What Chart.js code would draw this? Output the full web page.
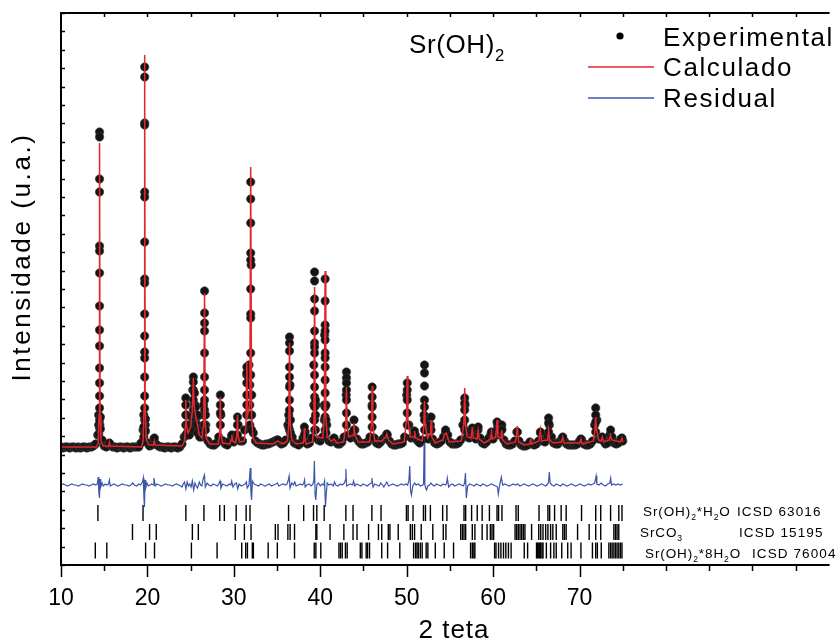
<!DOCTYPE html>
<html>
<head>
<meta charset="utf-8">
<script src="https://cdn.jsdelivr.net/npm/chart.js@4.4.1/dist/chart.umd.min.js"></script>
<style>
  html, body { margin: 0; padding: 0; background: #ffffff; }
  canvas { display: block; }
</style>
</head>
<body>
<canvas id="xrd" width="837" height="642"></canvas>
<script>
// ---- Scan: 2θ band of the measured pattern, 10°–75° every 0.25° ----
const scanStart = 10;
const scanStep = 0.25;
const backgroundCounts = [
  118, 117, 118, 118,   117, 118, 118, 117,   118, 117, 118, 118,   117, 118, 118, 119,   // 10–13
  121, 130, 140, 125,   119, 118, 121, 120,   118, 118, 117, 118,   118, 117, 118, 118,   // 14–17
  117, 118, 118, 118,   118, 122, 135, 140,   122, 119, 120, 126,   121, 119, 118, 118,   // 18–21
  117, 118, 118, 117,   118, 118, 117, 118,   121, 128, 150, 135,   140, 175, 160, 148,   // 22–25
  133, 128, 150, 140,   124, 121, 120, 120,   122, 128, 150, 124,   121, 120, 124, 129,   // 26–29
  123, 130, 140, 124,   124, 135, 190, 200,   300, 132, 124, 122,   121, 120, 120, 121,   // 30–33
  121, 122, 123, 124,   125, 123, 121, 122,   125, 140, 180, 128,   122, 121, 120, 122,   // 34–37
  127, 133, 121, 122,   127, 200, 160, 125,   124, 128, 230, 140,   124, 123, 125, 124,   // 38–41
  121, 121, 123, 128,   170, 130, 127, 132,   135, 126, 123, 121,   121, 122, 123, 128,   // 42–45
  160, 127, 122, 121,   123, 126, 128, 130,   124, 121, 120, 120,   121, 121, 122, 128,   // 46–49
  170, 140, 127, 128,   130, 124, 122, 125,   150, 135, 126, 140,   126, 122, 121, 122,   // 50–53
  124, 128, 133, 130,   123, 121, 121, 121,   122, 125, 140, 160,   128, 127, 134, 128,   // 54–57
  126, 135, 127, 122,   121, 123, 127, 131,   126, 130, 140, 130,   136, 125, 121, 120,   // 58–61
  120, 121, 124, 133,   124, 120, 119, 119,   120, 123, 121, 120,   121, 124, 132, 124,   // 62–65
  123, 130, 140, 128,   122, 121, 121, 124,   127, 124, 121, 120,   120, 120, 120, 121,   // 66–69
  124, 125, 121, 120,   120, 121, 124, 140,   145, 126, 127, 124,   121, 122, 130, 128,   // 70–73
  122, 121, 122, 126,   124                                                               // 74–75
];

// ---- Measured points on the flanks of each reflection: [2θ, counts…] ----
const peakColumns = [
  [14.36, [150, 140, 131]],
  [14.46, [433, 428, 386, 373, 319, 314, 292, 259, 235, 219, 197, 182, 169, 157, 145, 137]],
  [14.56, [148, 136]],
  [15.6,  [122]],
  [19.58, [150, 138, 128]],
  [19.68, [498, 488, 442, 440, 373, 368, 323, 286, 282, 251, 229, 213, 207, 188, 169, 157, 145, 133]],
  [19.78, [146, 134]],
  [20.8,  [127]],
  [24.44, [167, 160, 150, 140, 130]],
  [24.6,  [140, 132]],
  [24.85, [136, 130]],
  [25.1,  [148, 138]],
  [25.31, [188, 183, 175, 165, 155, 145, 135]],
  [25.45, [172, 160, 148]],
  [25.6,  [158, 150, 140]],
  [25.8,  [150, 140, 132]],
  [26.05, [136, 128]],
  [26.5,  [160, 140]],
  [26.61, [274, 252, 242, 234, 212, 188, 175, 165, 155, 140]],
  [26.72, [150, 135]],
  [28.44, [170, 160, 152, 140]],
  [29.77, [130]],
  [30.42, [148, 140, 130]],
  [31.5,  [198, 192, 182, 170, 160, 150]],
  [31.85, [180, 160, 140]],
  [31.95, [383, 366, 342, 312, 305, 276, 251, 247, 212, 190, 170, 150]],
  [32.06, [170, 150, 135]],
  [35.1,  [125]],
  [36.35, [150, 138]],
  [36.44, [228, 222, 214, 198, 188, 178, 165, 155, 145, 135]],
  [36.55, [145, 132]],
  [38.16, [138, 130]],
  [39.25, [160, 145]],
  [39.34, [293, 284, 266, 254, 234, 222, 218, 212, 190, 178, 168, 158, 145, 135]],
  [39.44, [165, 150, 135]],
  [40.47, [160, 145]],
  [40.56, [286, 264, 240, 234, 225, 212, 207, 198, 185, 172, 158, 148, 135]],
  [40.66, [160, 145, 132]],
  [41.6,  [127]],
  [43.03, [193, 187, 182, 175, 165, 152, 140]],
  [43.9,  [145, 135]],
  [46.0,  [178, 168, 158, 148, 138]],
  [47.7,  [131]],
  [50.06, [182, 175, 165, 152, 140]],
  [50.9,  [134]],
  [52.06, [200, 192, 179, 165, 158, 145, 135]],
  [52.82, [148, 135]],
  [54.5,  [135]],
  [56.71, [167, 162, 155, 145, 135]],
  [57.59, [137]],
  [58.27, [138]],
  [59.8,  [133]],
  [60.45, [143, 135]],
  [61.0,  [140, 135]],
  [62.8,  [133]],
  [65.47, [133]],
  [66.42, [147, 142, 133]],
  [68.06, [128]],
  [70.16, [126]],
  [71.87, [157, 150, 143, 133]],
  [72.63, [128]],
  [73.59, [135]],
  [74.9,  [127]]
];

// ---- Calculated (Rietveld) profile: [2θ, counts] ----
const calculated = [
  [10, 118], [14.1, 118], [14.3, 122], [14.4, 150], [14.46, 422], [14.52, 150], [14.62, 124], [14.9, 119],
  [15.5, 119], [15.6, 123], [15.7, 119], [19.3, 118], [19.5, 124], [19.62, 160], [19.68, 510], [19.74, 160],
  [19.85, 126], [20.2, 120], [20.7, 120], [20.8, 124], [20.9, 120], [24.0, 119], [24.3, 124], [24.4, 140],
  [24.44, 165], [24.5, 140], [24.7, 132], [25.0, 138], [25.2, 155], [25.31, 187], [25.4, 160], [25.6, 148],
  [25.8, 140], [26.0, 130], [26.3, 127], [26.5, 140], [26.61, 272], [26.7, 140], [26.85, 126], [27.2, 121],
  [28.2, 121], [28.35, 130], [28.44, 168], [28.52, 130], [28.7, 122], [29.5, 121], [29.7, 125], [29.77, 130],
  [29.85, 124], [30.2, 122], [30.35, 130], [30.42, 150], [30.5, 128], [30.7, 123], [31.2, 124], [31.4, 140],
  [31.5, 203], [31.6, 150], [31.85, 160], [31.95, 398], [32.05, 150], [32.2, 127], [32.6, 122], [34.5, 121],
  [35.1, 124], [35.6, 121], [36.2, 124], [36.35, 140], [36.44, 222], [36.53, 140], [36.7, 125], [37.2, 121],
  [38.0, 122], [38.1, 125], [38.16, 137], [38.22, 125], [38.4, 121], [39.1, 123], [39.25, 140], [39.34, 278],
  [39.42, 140], [39.6, 128], [40.3, 127], [40.47, 150], [40.56, 294], [40.64, 150], [40.8, 128], [41.3, 124],
  [41.6, 126], [41.9, 122], [42.7, 123], [42.95, 140], [43.03, 178], [43.1, 140], [43.3, 128], [43.8, 130],
  [43.9, 142], [44.0, 130], [44.4, 123], [45.7, 123], [45.92, 140], [46.0, 179], [46.08, 140], [46.3, 124],
  [47.2, 124], [47.3, 126], [47.6, 128], [47.7, 131], [47.9, 125], [48.4, 121], [49.7, 123], [49.98, 145],
  [50.06, 189], [50.14, 145], [50.4, 128], [50.85, 128], [50.92, 134], [51.0, 127], [51.8, 124], [51.98, 140],
  [52.06, 164], [52.14, 140], [52.4, 127], [52.75, 132], [52.82, 145], [52.9, 128], [53.3, 122], [54.2, 125],
  [54.35, 130], [54.55, 132], [54.7, 129], [54.9, 123], [56.3, 124], [56.6, 140], [56.71, 177], [56.8, 140],
  [57.0, 128], [57.45, 127], [57.59, 138], [57.7, 127], [58.15, 126], [58.27, 135], [58.4, 126], [59.0, 122],
  [59.7, 126], [59.8, 133], [59.9, 126], [60.3, 128], [60.45, 145], [60.55, 128], [60.9, 127], [61.0, 135],
  [61.1, 125], [61.6, 121], [62.6, 123], [62.8, 139], [62.95, 123], [63.6, 120], [64.25, 121], [64.35, 125],
  [64.45, 121], [65.3, 124], [65.47, 135], [65.6, 124], [66.3, 125], [66.42, 135], [66.55, 125], [67.0, 122],
  [67.9, 123], [68.06, 128], [68.2, 122], [70.0, 122], [70.16, 126], [70.3, 121], [71.6, 124], [71.78, 135],
  [71.87, 148], [71.96, 135], [72.2, 125], [72.5, 124], [72.63, 128], [72.8, 123], [73.45, 125], [73.59, 130],
  [73.72, 125], [74.7, 123], [74.9, 127], [75.0, 123]
];

// ---- Difference curve (observed − calculated, offset): [2θ, counts] ----
const residual = [
  [10.0, 80], [10.25, 81], [10.5, 80], [10.75, 79], [11.0, 80], [11.25, 81], [11.5, 80], [11.75, 80], [12.0, 79],
  [12.25, 80], [12.5, 81], [12.75, 80], [13.0, 80], [13.25, 79], [13.5, 80], [13.75, 81], [14.0, 80], [14.2, 81],
  [14.3, 88], [14.38, 73], [14.45, 67], [14.52, 86], [14.6, 78], [14.75, 82], [14.9, 79], [15.1, 81], [15.3, 80],
  [15.5, 81], [15.6, 85], [15.7, 79], [15.9, 80], [16.1, 81], [16.35, 80], [16.6, 79], [16.85, 80], [17.1, 81],
  [17.35, 80], [17.6, 80], [17.85, 79], [18.1, 80], [18.3, 82], [18.5, 80], [18.75, 79], [19.0, 81], [19.2, 80],
  [19.35, 82], [19.45, 84], [19.52, 87], [19.6, 66], [19.66, 58], [19.72, 85], [19.8, 77], [19.95, 82], [20.1, 79],
  [20.3, 80], [20.5, 81], [20.65, 80], [20.75, 87], [20.9, 79], [21.1, 81], [21.35, 80], [21.6, 79], [21.85, 80],
  [22.1, 81], [22.35, 80], [22.6, 80], [22.85, 79], [23.1, 80], [23.35, 81], [23.6, 80], [23.85, 79], [24.0, 78],
  [24.15, 81], [24.3, 83], [24.45, 76], [24.6, 83], [24.75, 79], [24.9, 81], [25.05, 78], [25.2, 84], [25.35, 75],
  [25.5, 82], [25.65, 79], [25.8, 77], [26.0, 83], [26.15, 80], [26.3, 79], [26.45, 86], [26.6, 90], [26.7, 78],
  [26.9, 82], [27.1, 80], [27.35, 79], [27.6, 81], [27.85, 80], [28.1, 79], [28.3, 82], [28.4, 84], [28.5, 77],
  [28.7, 81], [28.95, 80], [29.2, 79], [29.45, 81], [29.65, 80], [29.75, 84], [29.9, 78], [30.1, 81], [30.3, 82],
  [30.45, 76], [30.6, 81], [30.85, 79], [31.1, 80], [31.3, 81], [31.45, 83], [31.55, 77], [31.75, 80], [31.9, 97],
  [31.98, 72], [32.05, 65], [32.15, 84], [32.35, 81], [32.6, 80], [32.85, 79], [33.1, 81], [33.35, 80], [33.6, 79],
  [33.85, 80], [34.1, 81], [34.35, 79], [34.6, 80], [34.85, 81], [35.05, 82], [35.2, 79], [35.45, 80], [35.7, 81],
  [35.95, 80], [36.15, 81], [36.3, 85], [36.4, 89], [36.5, 77], [36.7, 82], [36.9, 80], [37.05, 83], [37.2, 79],
  [37.45, 80], [37.7, 81], [37.95, 80], [38.1, 82], [38.18, 85], [38.25, 78], [38.45, 80], [38.7, 81], [38.95, 79],
  [39.15, 81], [39.25, 84], [39.32, 104], [39.4, 70], [39.48, 65], [39.6, 80], [39.8, 82], [40.0, 79], [40.2, 81],
  [40.4, 80], [40.5, 84], [40.6, 58], [40.68, 70], [40.8, 82], [41.0, 80], [41.25, 81], [41.5, 79], [41.65, 83],
  [41.8, 80], [42.05, 79], [42.3, 81], [42.55, 80], [42.8, 82], [42.9, 85], [42.96, 96], [43.05, 79], [43.25, 80],
  [43.5, 81], [43.75, 80], [43.85, 84], [44.0, 79], [44.2, 81], [44.45, 80], [44.7, 79], [44.95, 81], [45.2, 80],
  [45.45, 79], [45.7, 81], [45.9, 82], [45.98, 87], [46.1, 78], [46.3, 81], [46.55, 80], [46.8, 79], [47.0, 82],
  [47.2, 80], [47.35, 78], [47.55, 81], [47.7, 83], [47.9, 79], [48.15, 80], [48.4, 81], [48.65, 80], [48.9, 79],
  [49.15, 80], [49.4, 81], [49.65, 80], [49.9, 81], [50.1, 80], [50.25, 84], [50.35, 99], [50.45, 74], [50.55, 70],
  [50.7, 79], [50.9, 82], [51.1, 80], [51.35, 81], [51.6, 79], [51.85, 80], [51.95, 81], [52.02, 128], [52.1, 80],
  [52.2, 77], [52.3, 75], [52.45, 79], [52.65, 80], [52.8, 82], [53.0, 80], [53.2, 79], [53.45, 81], [53.7, 80],
  [53.95, 79], [54.2, 81], [54.45, 80], [54.6, 81], [54.7, 87], [54.85, 78], [55.05, 80], [55.3, 81], [55.55, 79],
  [55.8, 80], [56.05, 81], [56.3, 80], [56.55, 79], [56.7, 82], [56.8, 92], [56.9, 67], [57.05, 79], [57.3, 81],
  [57.55, 80], [57.8, 79], [58.05, 81], [58.3, 80], [58.55, 79], [58.8, 81], [59.05, 80], [59.3, 79], [59.55, 80],
  [59.8, 81], [60.05, 80], [60.3, 79], [60.5, 78], [60.6, 71], [60.75, 80], [60.95, 88], [61.1, 80], [61.35, 81],
  [61.6, 80], [61.85, 79], [62.1, 80], [62.35, 81], [62.6, 80], [62.85, 81], [63.1, 79], [63.35, 80], [63.6, 81],
  [63.85, 80], [64.1, 79], [64.35, 80], [64.6, 81], [64.85, 80], [65.1, 79], [65.35, 80], [65.6, 81], [65.85, 80],
  [66.1, 79], [66.3, 81], [66.4, 82], [66.5, 93], [66.6, 82], [66.8, 80], [67.05, 79], [67.3, 81], [67.55, 80],
  [67.8, 79], [68.05, 81], [68.3, 80], [68.55, 79], [68.8, 80], [69.05, 81], [69.3, 80], [69.55, 79], [69.8, 80],
  [70.05, 81], [70.3, 80], [70.55, 79], [70.8, 80], [71.05, 81], [71.3, 80], [71.55, 81], [71.75, 82], [71.85, 86],
  [71.92, 89], [72.0, 81], [72.25, 80], [72.5, 82], [72.75, 80], [73.0, 79], [73.25, 81], [73.5, 82], [73.6, 87],
  [73.7, 80], [73.95, 81], [74.2, 80], [74.45, 81], [74.7, 80], [75.0, 81]
];

// ---- Bragg reflection positions (2θ) of each phase ----
const reflMonohydrate = [
  14.27, 19.49, 24.45, 26.54, 28.37, 28.9, 30.27, 31.42, 31.87, 36.33, 38.08, 39.22, 39.6, 40.45, 42.96,
  43.79, 45.97, 47.03, 49.97, 50.16, 50.73, 51.94, 52.17, 52.74, 54.16, 54.65, 56.63, 56.82, 57.51, 58.16,
  58.73, 59.57, 60.45, 60.63, 61.02, 62.65, 62.91, 65.31, 66.34, 66.54, 67.11, 67.87, 68.45, 70.23, 71.87,
  72.45, 73.59, 74.54, 74.91
];
const reflCarbonate = [
  18.27, 20.25, 21.02, 25.2, 25.89, 30.16, 31.22, 31.99, 34.8, 35.11, 36.25, 36.51, 37.02, 39.49, 39.6,
  41.13, 42.73, 43.79, 44.25, 45.59, 46.73, 47.11, 47.87, 48.06, 49.02, 50.42, 50.65, 50.91, 51.68, 53.02,
  54.23, 54.54, 56.25, 56.45, 56.63, 56.82, 57.59, 57.89, 58.73, 59.3, 59.68, 59.87, 60.06, 62.54, 62.73,
  62.91, 63.11, 63.3, 63.49, 63.68, 64.45, 65.28, 65.51, 65.77, 66.08, 66.34, 66.65, 66.91, 67.3, 68.06,
  68.25, 68.45, 69.77, 71.11, 71.87, 72.45, 73.97, 74.16, 74.34, 74.54
];
const reflOctahydrate = [
  13.97, 15.3, 19.79, 20.82, 25.09, 28.06, 30.91, 31.37, 31.57, 32.14, 32.26, 33.97, 35.03, 37.02, 39.3,
  39.49, 40.06, 42.16, 42.34, 42.54, 42.91, 43.11, 44.63, 44.82, 45.31, 45.47, 45.7, 47.11, 47.79, 49.2,
  50.8, 51.03, 51.19, 51.34, 51.57, 51.79, 52.25, 52.45, 53.31, 54.34, 55.42, 57.39, 57.59, 57.77, 57.89,
  60.17, 60.33, 60.63, 60.9, 61.2, 61.47, 61.77, 62.08, 63.6, 63.99, 65.02, 65.13, 65.28, 65.39, 65.51,
  65.66, 65.77, 66.16, 66.65, 67.03, 67.3, 67.94, 68.63, 69.02, 70.16, 71.49, 71.87, 72.06, 72.51, 73.39,
  73.59, 73.77, 73.97, 74.16, 74.34, 74.54, 74.73, 74.91
];

const xTickLabels = [10, 20, 30, 40, 50, 60, 70];
const legendLabels = ['Experimental', 'Calculado', 'Residual'];
const phaseNames = [
  { parts: [['Sr(OH)'], ['2', 1], ['*H'], ['2', 1], ['O']], code: 'ICSD 63016' },
  { parts: [['SrCO'], ['3', 1]], code: 'ICSD 15195' },
  { parts: [['Sr(OH)'], ['2', 1], ['*8H'], ['2', 1], ['O']], code: 'ICSD 76004' }
];

// ---- build Chart.js point lists ----
const experimentalPoints = backgroundCounts.map((c, i) => ({ x: scanStart + i * scanStep, y: c }));
peakColumns.forEach(([t, counts]) => counts.forEach(c => experimentalPoints.push({ x: t, y: c })));
const toXY = arr => arr.map(([x, y]) => ({ x, y }));
const rowLevels = [52, 33, 14.5];
const reflPoints = (list, level) => list.map(t => ({ x: t, y: level }));

const FONT = '"Liberation Sans", Arial, Helvetica, sans-serif';

function drawRich(ctx, x, y, parts, size, spacing) {
  for (const [text, sub] of parts) {
    const s = sub ? size * 0.64 : size;
    ctx.font = `${s}px ${FONT}`;
    ctx.letterSpacing = spacing + 'px';
    ctx.fillText(text, x, sub ? y + size * 0.3 : y);
    x += ctx.measureText(text).width;
  }
  return x;
}

const framePlugin = {
  id: 'frame',
  afterDatasetsDraw(chart) {
    const { ctx, chartArea: a, scales: { x, y } } = chart;
    ctx.save();
    ctx.strokeStyle = '#000';
    ctx.lineWidth = 2;
    ctx.beginPath();
    ctx.moveTo(a.left, a.top); ctx.lineTo(a.right + 2, a.top);
    ctx.moveTo(a.left, a.top - 1); ctx.lineTo(a.left, a.bottom + 1);
    ctx.moveTo(a.left - 1, a.bottom); ctx.lineTo(a.right + 2, a.bottom);
    ctx.stroke();

    ctx.lineWidth = 1.5;
    ctx.beginPath();
    // bottom axis: major ticks at the labelled values, minor ones every 5°
    for (let v = 10; v <= 95; v += 5) {
      const px = Math.round(x.getPixelForValue(v)) + 0.5;
      const major = xTickLabels.includes(v);
      ctx.moveTo(px, a.bottom);
      ctx.lineTo(px, a.bottom + (major ? 12 : 6));
      // top axis: short inward ticks
      if (v > 10) { ctx.moveTo(px, a.top); ctx.lineTo(px, a.top + 4); }
    }
    // left axis: short inward ticks
    for (let k = 0; k <= 30; k++) {
      const py = Math.round(y.getPixelForValue(k * 18.4)) + 0.5;
      ctx.moveTo(a.left, py); ctx.lineTo(a.left + 4, py);
    }
    ctx.stroke();
    ctx.restore();
  },
  afterDraw(chart) {
    const { ctx, chartArea: a } = chart;
    ctx.save();
    ctx.fillStyle = '#000';
    ctx.textBaseline = 'alphabetic';
    ctx.textAlign = 'left';

    // sample name
    drawRich(ctx, 409, 53, [['Sr(OH)'], ['2', 1]], 26, 0.6);

    // legend
    ctx.beginPath();
    ctx.arc(620, 36, 3.6, 0, Math.PI * 2);
    ctx.fill();
    ctx.lineWidth = 1.4;
    ctx.strokeStyle = '#e3262b';
    ctx.beginPath(); ctx.moveTo(588, 67); ctx.lineTo(654, 67); ctx.stroke();
    ctx.strokeStyle = '#3b55ad';
    ctx.beginPath(); ctx.moveTo(588, 98); ctx.lineTo(654, 98); ctx.stroke();
    ctx.font = `26px ${FONT}`;
    ctx.letterSpacing = '1.6px';
    ctx.fillText(legendLabels[0], 663, 46);
    ctx.fillText(legendLabels[1], 663, 76);
    ctx.fillText(legendLabels[2], 663, 107);

    // phase labels beside the reflection rows
    drawRich(ctx, 643, 516, phaseNames[0].parts, 13.5, 0.9);
    drawRich(ctx, 737, 516, [[phaseNames[0].code]], 13.5, 1.1);
    drawRich(ctx, 640, 537, phaseNames[1].parts, 13.5, 0.9);
    drawRich(ctx, 739, 537, [[phaseNames[1].code]], 13.5, 1.1);
    drawRich(ctx, 645, 558, phaseNames[2].parts, 13.5, 0.9);
    drawRich(ctx, 752, 558, [[phaseNames[2].code]], 13.5, 1.1);

    // axis titles
    ctx.font = `26px ${FONT}`;
    ctx.letterSpacing = '1px';
    ctx.textAlign = 'center';
    ctx.textBaseline = 'middle';
    ctx.fillText('2 teta', 454, 631);
    ctx.translate(23, (a.top + a.bottom) / 2 - 32);
    ctx.rotate(-Math.PI / 2);
    ctx.letterSpacing = '2.6px';
    ctx.fillText('Intensidade (u.a.)', 0, 0);
    ctx.restore();
  }
};

new Chart(document.getElementById('xrd'), {
  type: 'scatter',
  data: {
    datasets: [
      { label: 'Calculado', data: toXY(calculated), showLine: true, pointRadius: 0,
        borderColor: '#e3262b', borderWidth: 1.5, tension: 0 },
      { label: 'Experimental', data: experimentalPoints, showLine: false, pointRadius: 4.2,
        backgroundColor: '#141414', borderColor: 'rgba(60,60,60,0.9)', borderWidth: 0.7 },
      { label: 'Residual', data: toXY(residual), showLine: true, pointRadius: 0,
        borderColor: '#3b55ad', borderWidth: 1.2, tension: 0 },
      { label: 'Sr(OH)2*H2O', data: reflPoints(reflMonohydrate, rowLevels[0]), pointStyle: 'line',
        rotation: 90, pointRadius: 8, borderColor: '#000', borderWidth: 1.4 },
      { label: 'SrCO3', data: reflPoints(reflCarbonate, rowLevels[1]), pointStyle: 'line',
        rotation: 90, pointRadius: 8, borderColor: '#000', borderWidth: 1.4 },
      { label: 'Sr(OH)2*8H2O', data: reflPoints(reflOctahydrate, rowLevels[2]), pointStyle: 'line',
        rotation: 90, pointRadius: 8, borderColor: '#000', borderWidth: 1.4 }
    ]
  },
  options: {
    responsive: false,
    animation: false,
    devicePixelRatio: 1,
    layout: { padding: { left: 61, top: 13, right: 0, bottom: 0 } },
    plugins: { legend: { display: false }, tooltip: { enabled: false } },
    scales: {
      x: {
        type: 'linear', min: 10, max: 98.7,
        afterBuildTicks: s => { s.ticks = xTickLabels.map(v => ({ value: v })); },
        afterFit: s => { s.height = 77; },
        grid: { display: false, drawTicks: false },
        border: { display: false },
        ticks: { autoSkip: false, maxRotation: 0, padding: 20, color: '#000',
                 font: { family: FONT, size: 23 } }
      },
      y: {
        type: 'linear', min: 0, max: 552, display: false
      }
    }
  },
  plugins: [framePlugin]
});
</script>
</body>
</html>
